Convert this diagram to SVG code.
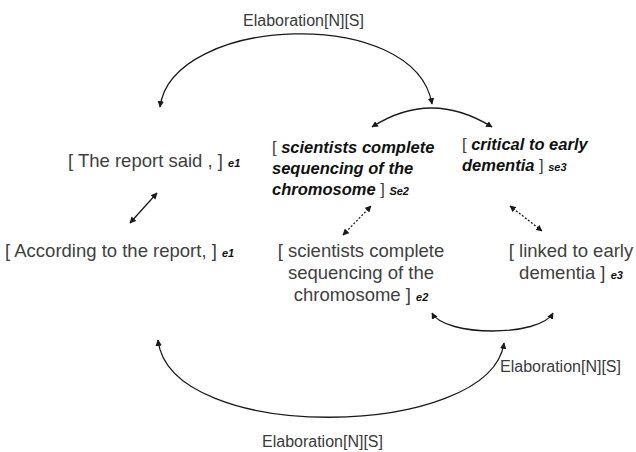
<svg xmlns="http://www.w3.org/2000/svg" width="636" height="452" viewBox="0 0 636 452">
<style>
  .reg { font-family: "Liberation Sans", Arial, sans-serif; font-size: 18.5px; fill: #404040; }
  .bi { font-family: "Liberation Sans", Arial, sans-serif; font-size: 16.5px; font-weight: bold; font-style: italic; fill: #111; }
  .br { font-weight: normal; font-style: normal; fill: #404040; }
  .sub { font-family: "Liberation Sans", Arial, sans-serif; font-size: 11px; font-weight: bold; font-style: italic; fill: #111; }
  .lbl { font-family: "Liberation Sans", Arial, sans-serif; font-size: 16px; fill: #3a3a3a; }
  .c { fill: none; stroke: #1a1a1a; stroke-width: 1.3; marker-start: url(#ah); marker-end: url(#ah); }
  .d { stroke-dasharray: 2 1.8; }
</style>
<defs>
  <marker id="ah" viewBox="0 0 10 10" refX="9" refY="5" markerWidth="6.5" markerHeight="6.5" markerUnits="userSpaceOnUse" orient="auto-start-reverse">
    <path d="M0,0 L10,5 L0,10 z" fill="#1a1a1a"/>
  </marker>
</defs>
<rect width="636" height="452" fill="#ffffff"/>

<g id="connectors">
  <path class="c" d="M160,107 C172,15 415,5 432,104"/>
  <path class="c" d="M372,127 Q431,89 492,127"/>
  <path class="c" d="M130,223 L157,193"/>
  <path class="c d" d="M343,235 L371,206"/>
  <path class="c d" d="M510,206 L542,231"/>
  <path class="c" d="M432,313 C445,337 540,337 553,313"/>
  <path class="c" d="M158,340 C170,445 490,440 504,343"/>
</g>

<g id="labels">
  <text class="lbl" x="243" y="26">Elaboration[N][S]</text>
  <text class="lbl" x="500" y="372">Elaboration[N][S]</text>
  <text class="lbl" x="262" y="447">Elaboration[N][S]</text>
</g>

<g id="node-e1-top">
  <text class="reg" x="68" y="167">[ The report said , ] <tspan class="sub">e1</tspan></text>
</g>
<g id="node-e1-bottom">
  <text class="reg" x="5" y="257">[ According to the report, ] <tspan class="sub">e1</tspan></text>
</g>
<g id="node-se2">
  <text class="bi" x="272" y="153"><tspan class="br">[ </tspan>scientists complete</text>
  <text class="bi" x="272" y="174">sequencing of the</text>
  <text class="bi" x="272" y="195">chromosome <tspan class="br">] </tspan><tspan class="sub">Se2</tspan></text>
</g>
<g id="node-se3">
  <text class="bi" x="462" y="150"><tspan class="br">[ </tspan>critical to early</text>
  <text class="bi" x="462" y="171">dementia <tspan class="br">] </tspan><tspan class="sub">se3</tspan></text>
</g>
<g id="node-e2">
  <text class="reg" x="361" y="257" text-anchor="middle">[ scientists complete</text>
  <text class="reg" x="361" y="279" text-anchor="middle">sequencing of the</text>
  <text class="reg" x="361" y="301" text-anchor="middle">chromosome ] <tspan class="sub">e2</tspan></text>
</g>
<g id="node-e3">
  <text class="reg" x="571" y="257" text-anchor="middle">[ linked to early</text>
  <text class="reg" x="571" y="279" text-anchor="middle">dementia ] <tspan class="sub">e3</tspan></text>
</g>
</svg>
